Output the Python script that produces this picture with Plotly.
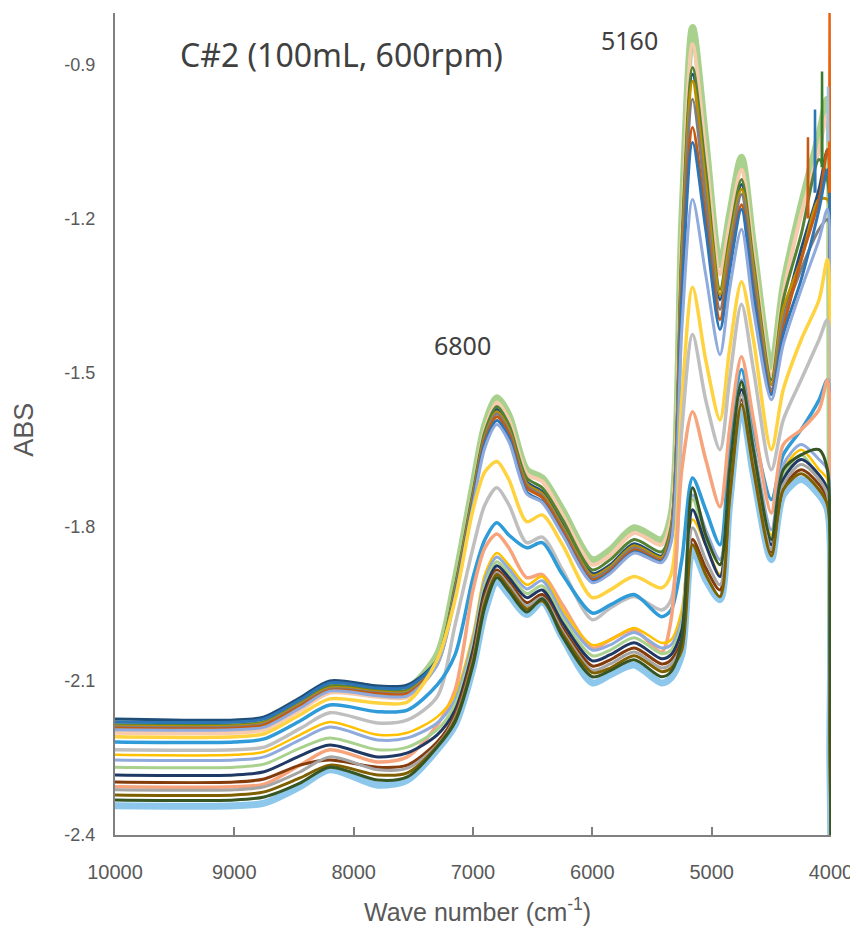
import plotly.graph_objects as go

wavenumber = [10000, 9000, 8750, 8450, 8200, 7800, 7550, 7300, 7150, 7000, 6900, 6800,
              6700, 6550, 6420, 6250, 6000, 5850, 5650, 5420, 5340, 5250, 5160, 5050,
              4930, 4850, 4750, 4650, 4500, 4400, 4250, 4100, 4030, 4010, 4000]

# ---- upper group of spectra ----
top_env = [-2.184, -2.184, -2.178, -2.141, -2.106, -2.114, -2.114, -2.049, -1.903, -1.718, -1.601, -1.549,
           -1.582, -1.689, -1.705, -1.767, -1.864, -1.845, -1.802, -1.825, -1.777, -1.202, -0.828, -1.046,
           -1.290, -1.192, -1.081, -1.251, -1.488, -1.329, -1.173, -1.036, -0.968, -1.358, -2.430]
top_peach = [-2.201, -2.201, -2.195, -2.157, -2.123, -2.131, -2.131, -2.067, -1.919, -1.732, -1.611, -1.558,
             -1.592, -1.697, -1.712, -1.777, -1.874, -1.855, -1.812, -1.835, -1.786, -1.231, -0.861, -1.075,
             -1.309, -1.212, -1.105, -1.270, -1.504, -1.348, -1.192, -1.066, -0.997, -1.397, -2.430]
top_navy = [-2.174, -2.176, -2.170, -2.133, -2.100, -2.110, -2.108, -2.059, -1.919, -1.738, -1.621, -1.572,
            -1.607, -1.712, -1.732, -1.796, -1.891, -1.874, -1.833, -1.857, -1.806, -1.270, -0.919, -1.124,
            -1.358, -1.251, -1.134, -1.299, -1.523, -1.397, -1.260, -1.143, -1.066, -1.553, -2.430]
top_dkgreen = [-2.186, -2.186, -2.180, -2.143, -2.110, -2.118, -2.118, -2.059, -1.915, -1.732, -1.615, -1.566,
               -1.601, -1.705, -1.724, -1.786, -1.884, -1.864, -1.825, -1.849, -1.800, -1.251, -0.906, -1.105,
               -1.338, -1.237, -1.124, -1.284, -1.514, -1.358, -1.231, -1.085, -1.124, -1.650, -2.430]
top_gold = [-2.188, -2.188, -2.182, -2.145, -2.114, -2.121, -2.121, -2.063, -1.923, -1.742, -1.625, -1.576,
            -1.611, -1.716, -1.736, -1.800, -1.895, -1.878, -1.837, -1.860, -1.810, -1.280, -0.933, -1.134,
            -1.348, -1.251, -1.143, -1.299, -1.523, -1.377, -1.280, -1.163, -1.163, -1.747, -2.430]
top_gray = [-2.190, -2.190, -2.184, -2.147, -2.116, -2.123, -2.123, -2.065, -1.927, -1.745, -1.628, -1.580,
            -1.615, -1.720, -1.740, -1.804, -1.899, -1.882, -1.841, -1.864, -1.816, -1.309, -0.968, -1.163,
            -1.377, -1.270, -1.153, -1.319, -1.533, -1.397, -1.299, -1.221, -1.202, -1.786, -2.430]
top_orange = [-2.192, -2.192, -2.186, -2.149, -2.118, -2.125, -2.125, -2.067, -1.930, -1.749, -1.632, -1.586,
              -1.619, -1.724, -1.743, -1.808, -1.903, -1.886, -1.845, -1.866, -1.820, -1.338, -1.023, -1.202,
              -1.397, -1.290, -1.173, -1.338, -1.539, -1.416, -1.280, -1.163, -1.066, -1.455, -2.430]
top_blue = [-2.180, -2.180, -2.174, -2.137, -2.104, -2.114, -2.112, -2.061, -1.932, -1.753, -1.638, -1.593,
            -1.626, -1.732, -1.751, -1.814, -1.907, -1.889, -1.849, -1.868, -1.825, -1.358, -1.052, -1.221,
            -1.416, -1.303, -1.182, -1.348, -1.543, -1.426, -1.319, -1.182, -1.105, -1.592, -2.430]
top_peri = [-2.195, -2.195, -2.190, -2.153, -2.120, -2.129, -2.129, -2.069, -1.938, -1.759, -1.646, -1.601,
            -1.634, -1.736, -1.753, -1.816, -1.909, -1.891, -1.851, -1.870, -1.831, -1.416, -1.163, -1.309,
            -1.465, -1.338, -1.221, -1.377, -1.553, -1.445, -1.338, -1.241, -1.182, -1.708, -2.430]

# ---- intermediate spectra ----
mid_yellow = [-2.209, -2.209, -2.203, -2.166, -2.135, -2.143, -2.141, -2.059, -1.942, -1.767, -1.693, -1.673,
              -1.708, -1.790, -1.777, -1.835, -1.938, -1.923, -1.897, -1.919, -1.893, -1.553, -1.334, -1.475,
              -1.592, -1.455, -1.323, -1.436, -1.650, -1.533, -1.436, -1.358, -1.280, -1.747, -2.430]
mid_gray = [-2.234, -2.234, -2.229, -2.193, -2.162, -2.182, -2.176, -2.131, -1.991, -1.841, -1.757, -1.724,
            -1.757, -1.831, -1.820, -1.884, -1.981, -1.958, -1.936, -1.962, -1.942, -1.611, -1.426, -1.553,
            -1.650, -1.514, -1.367, -1.494, -1.689, -1.592, -1.514, -1.436, -1.397, -1.845, -2.430]
mid_blue = [-2.219, -2.219, -2.213, -2.178, -2.147, -2.160, -2.157, -2.108, -2.049, -1.899, -1.825, -1.792,
            -1.816, -1.841, -1.831, -1.893, -1.968, -1.952, -1.932, -1.975, -1.962, -1.864, -1.705, -1.767,
            -1.835, -1.650, -1.494, -1.611, -1.747, -1.660, -1.611, -1.553, -1.514, -1.942, -2.430]
mid_salmon = [-2.306, -2.306, -2.301, -2.264, -2.234, -2.258, -2.248, -2.186, -2.118, -1.923, -1.841, -1.814,
              -1.841, -1.899, -1.893, -1.952, -2.036, -2.020, -2.001, -2.044, -1.981, -1.689, -1.576, -1.669,
              -1.761, -1.611, -1.469, -1.592, -1.773, -1.640, -1.611, -1.572, -1.514, -1.981, -2.430]

# ---- lower group of spectra ----
low_gold = [-2.244, -2.244, -2.238, -2.205, -2.180, -2.205, -2.201, -2.170, -2.127, -2.010, -1.893, -1.851,
            -1.874, -1.913, -1.897, -1.962, -2.030, -2.020, -1.997, -2.026, -2.020, -1.962, -1.786, -1.835,
            -1.893, -1.708, -1.523, -1.650, -1.816, -1.689, -1.650, -1.689, -1.708, -2.040, -2.430]
low_ltblue = [-2.254, -2.254, -2.248, -2.215, -2.190, -2.215, -2.211, -2.182, -2.137, -2.020, -1.903, -1.859,
              -1.882, -1.921, -1.905, -1.970, -2.040, -2.030, -2.006, -2.036, -2.030, -1.981, -1.738, -1.806,
              -1.864, -1.689, -1.514, -1.640, -1.806, -1.679, -1.640, -1.669, -1.689, -2.020, -2.430]
low_green = [-2.268, -2.268, -2.262, -2.231, -2.211, -2.234, -2.229, -2.195, -2.147, -2.030, -1.913, -1.868,
             -1.891, -1.930, -1.915, -1.979, -2.051, -2.040, -2.016, -2.047, -2.040, -1.991, -1.747, -1.820,
             -1.874, -1.705, -1.523, -1.654, -1.822, -1.699, -1.660, -1.708, -1.747, -2.137, -2.430]
low_navy = [-2.283, -2.283, -2.277, -2.246, -2.225, -2.248, -2.240, -2.205, -2.157, -2.040, -1.923, -1.876,
            -1.899, -1.938, -1.923, -1.987, -2.061, -2.049, -2.026, -2.057, -2.049, -2.001, -1.767, -1.835,
            -1.897, -1.718, -1.533, -1.665, -1.835, -1.708, -1.669, -1.699, -1.728, -2.098, -2.430]
low_brown = [-2.297, -2.297, -2.291, -2.264, -2.254, -2.268, -2.264, -2.219, -2.166, -2.049, -1.932, -1.884,
             -1.907, -1.948, -1.932, -1.997, -2.071, -2.059, -2.036, -2.067, -2.059, -2.020, -1.825, -1.880,
             -1.923, -1.738, -1.553, -1.679, -1.849, -1.724, -1.689, -1.718, -1.747, -2.176, -2.430]
low_gray = [-2.312, -2.312, -2.306, -2.277, -2.248, -2.273, -2.270, -2.225, -2.172, -2.059, -1.942, -1.889,
            -1.913, -1.954, -1.938, -2.003, -2.079, -2.067, -2.044, -2.075, -2.067, -2.030, -1.802, -1.864,
            -1.913, -1.728, -1.543, -1.673, -1.845, -1.718, -1.679, -1.708, -1.738, -2.137, -2.430]
low_dkbrown = [-2.322, -2.322, -2.316, -2.289, -2.264, -2.283, -2.279, -2.227, -2.176, -2.063, -1.948, -1.893,
               -1.919, -1.960, -1.944, -2.008, -2.084, -2.075, -2.051, -2.082, -2.075, -2.040, -1.835, -1.893,
               -1.936, -1.747, -1.562, -1.689, -1.857, -1.728, -1.697, -1.728, -1.757, -2.215, -2.430]
low_dkgreen = [-2.332, -2.332, -2.326, -2.299, -2.268, -2.293, -2.287, -2.229, -2.180, -2.069, -1.956, -1.899,
               -1.925, -1.966, -1.940, -2.014, -2.092, -2.080, -2.059, -2.092, -2.082, -2.020, -1.724, -1.816,
               -1.874, -1.689, -1.518, -1.650, -1.825, -1.689, -1.660, -1.650, -1.689, -1.942, -2.430]
low_env = [-2.343, -2.343, -2.338, -2.306, -2.273, -2.303, -2.293, -2.234, -2.186, -2.075, -1.966, -1.907,
           -1.932, -1.971, -1.946, -2.016, -2.104, -2.088, -2.069, -2.104, -2.094, -2.049, -1.845, -1.903,
           -1.942, -1.757, -1.568, -1.699, -1.864, -1.738, -1.708, -1.738, -1.767, -2.254, -2.430]

# noise spikes at the low-wavenumber end
spike_wn = [4012, 4075, 4025, 4134, 4193]
spike_top = [-0.79, -0.914, -0.943, -0.988, -1.042]
spike_base = [-1.15, -1.10, -1.05, -1.15, -1.20]
spike_colors = ["#E8620F", "#3A7D2C", "#9DC3E6", "#2E75B6", "#C55A11"]

x_ticks = [10000, 9000, 8000, 7000, 6000, 5000, 4000]
x_tick_text = ["10000", "9000", "8000", "7000", "6000", "5000", "4000"]
y_ticks = [-2.4, -2.1, -1.8, -1.5, -1.2, -0.9]
y_tick_text = ["-2.4", "-2.1", "-1.8", "-1.5", "-1.2", "-0.9"]

series = [
    (top_env, "#A9D18E", 7), (low_env, "#8DC8EC", 7),
    (top_peach, "#F8CBAD", 4), (top_navy, "#1F4E79", 3), (top_dkgreen, "#548235", 3),
    (top_gold, "#BF8F00", 3), (top_gray, "#7F7F7F", 3), (top_orange, "#C55A11", 3),
    (top_blue, "#2E75B6", 3), (top_peri, "#8FAADC", 3),
    (mid_yellow, "#FFD23F", 3.5), (mid_gray, "#BFBFBF", 3.5), (mid_blue, "#2F9BD8", 3.5),
    (mid_salmon, "#F7A47C", 3.5),
    (low_gold, "#FFC000", 2.5), (low_ltblue, "#8FAADC", 3), (low_green, "#A9D18E", 3),
    (low_navy, "#203864", 3), (low_brown, "#843C0C", 3), (low_gray, "#A5A5A5", 3),
    (low_dkbrown, "#7F6000", 3), (low_dkgreen, "#375623", 3),
]

fig = go.Figure()
for ys, col, w in series:
    fig.add_trace(go.Scatter(x=wavenumber, y=ys, mode="lines",
                             line=dict(color=col, width=w, shape="spline", smoothing=0.8),
                             hoverinfo="skip", showlegend=False))

for wn, top, base, col in zip(spike_wn, spike_top, spike_base, spike_colors):
    fig.add_trace(go.Scatter(x=[wn + 3, wn, wn - 3], y=[base, top, base], mode="lines",
                             line=dict(color=col, width=2.5), hoverinfo="skip", showlegend=False))

sans = "Liberation Sans, Arial, sans-serif"
tick_col = "#595959"
axis_col = "#808080"

# the page body adds an 8 px margin, so the figure is 8 px smaller on each side
fig.update_layout(
    width=850, height=928,
    margin=dict(l=107, r=27, t=5, b=101),
    paper_bgcolor="white", plot_bgcolor="white",
    showlegend=False,
    xaxis=dict(range=[10000, 4000], tickvals=x_ticks, ticktext=x_tick_text, ticks="inside",
               ticklen=8, tickwidth=2, tickcolor=axis_col, showline=True, linecolor=axis_col,
               linewidth=2, showgrid=False, zeroline=False, ticklabelstandoff=18,
               tickfont=dict(family=sans, size=20, color=tick_col)),
    yaxis=dict(range=[-2.4, -0.8], tickvals=y_ticks, ticktext=y_tick_text, ticks="",
               showline=True, linecolor=axis_col, linewidth=2, showgrid=False, zeroline=False,
               ticklabelstandoff=14, tickfont=dict(family=sans, size=18, color=tick_col)),
    annotations=[
        dict(text="Wave number (cm<sup>-1</sup>)", xref="paper", yref="paper", x=0.506, y=-0.091,
             xanchor="center", yanchor="middle", showarrow=False,
             font=dict(family=sans, size=25, color=tick_col)),
        dict(text="ABS", xref="paper", yref="paper", x=-0.127, y=0.493, textangle=-90,
             xanchor="center", yanchor="middle", showarrow=False,
             font=dict(family=sans, size=27, color=tick_col)),
        dict(text="C#2 (100mL, 600rpm)", xref="paper", yref="paper", x=0.317, y=0.949,
             xanchor="center", yanchor="middle", showarrow=False,
             font=dict(family="Noto Sans, sans-serif", size=32, color="#404040")),
        dict(text="5160", xref="paper", yref="paper", x=0.719, y=0.967,
             xanchor="center", yanchor="middle", showarrow=False,
             font=dict(family="Noto Sans, sans-serif", size=25, color="#404040")),
        dict(text="6800", xref="paper", yref="paper", x=0.485, y=0.596,
             xanchor="center", yanchor="middle", showarrow=False,
             font=dict(family="Noto Sans, sans-serif", size=25, color="#404040")),
    ],
)

fig.write_html("out.html", config={"displayModeBar": False, "responsive": False})
